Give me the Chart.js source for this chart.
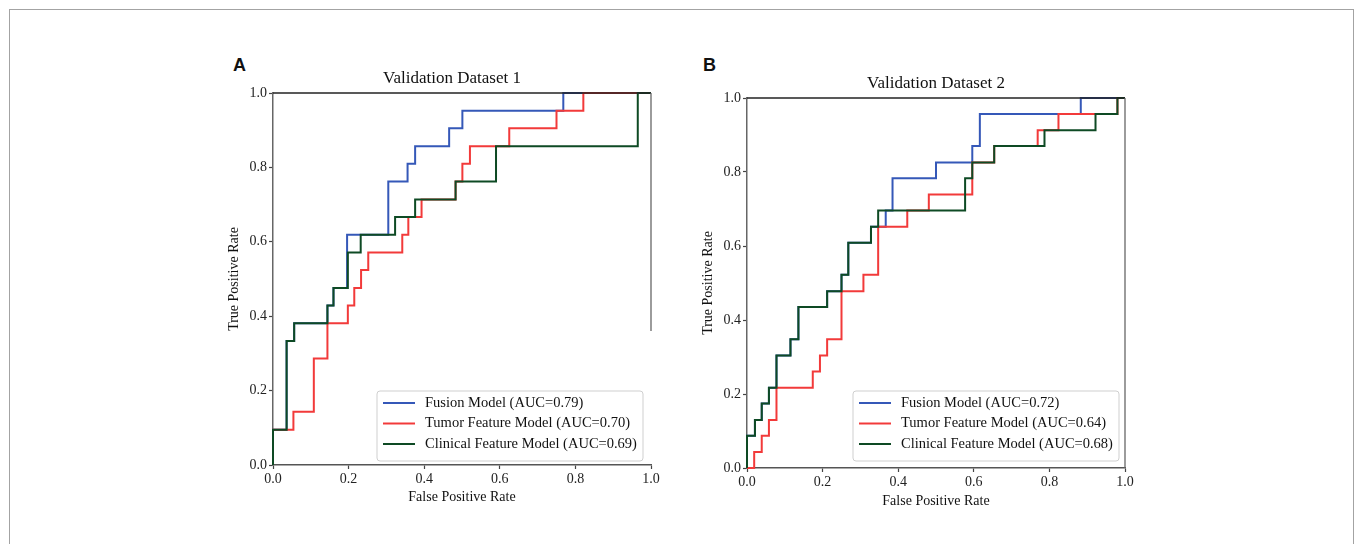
<!DOCTYPE html>
<html>
<head>
<meta charset="utf-8">
<script src="https://cdn.jsdelivr.net/npm/chart.js@4/dist/chart.umd.min.js"></script>
<style>
  body { margin: 0; background: #fff; width: 1357px; height: 544px; overflow: hidden; position: relative; }
  .frame { position: absolute; left: 9px; top: 9px; width: 1343px; height: 560px; border: 1.5px solid #a3a3a3; border-bottom: none; }
  .panel { position: absolute; width: 480px; height: 490px; }
  .letter { position: absolute; font: bold 18px "Liberation Sans", Arial, sans-serif; color: #111; }
</style>
</head>
<body>
<div class="frame"></div>
<div class="letter" style="left:233px; top:55px;">A</div>
<div class="letter" style="left:703px; top:55px;">B</div>
<div class="panel" style="left:190px; top:40px;"><canvas id="rocA" width="480" height="490"></canvas></div>
<div class="panel" style="left:664px; top:44px;"><canvas id="rocB" width="480" height="490"></canvas></div>
<script>
// ROC curve corner points (FPR, TPR)
const labelsA = ['Fusion Model (AUC=0.79)', 'Tumor Feature Model (AUC=0.70)', 'Clinical Feature Model (AUC=0.69)'];
const labelsB = ['Fusion Model (AUC=0.72)', 'Tumor Feature Model (AUC=0.64)', 'Clinical Feature Model (AUC=0.68)'];
const tickValues = [0, 0.2, 0.4, 0.6, 0.8, 1.0];

const fusionA_fpr = [0, 0, 0.036, 0.036, 0.056, 0.056, 0.144, 0.144, 0.16, 0.16, 0.196, 0.196, 0.305, 0.305, 0.356, 0.356, 0.376, 0.376, 0.466, 0.466, 0.501, 0.501, 0.768, 0.768, 1];
const fusionA_tpr = [0, 0.095, 0.095, 0.333, 0.333, 0.381, 0.381, 0.429, 0.429, 0.476, 0.476, 0.619, 0.619, 0.762, 0.762, 0.810, 0.810, 0.857, 0.857, 0.905, 0.905, 0.952, 0.952, 1, 1];

const tumorA_fpr = [0, 0, 0.054, 0.054, 0.108, 0.108, 0.144, 0.144, 0.198, 0.198, 0.215, 0.215, 0.233, 0.233, 0.252, 0.252, 0.342, 0.342, 0.358, 0.358, 0.393, 0.393, 0.483, 0.483, 0.501, 0.501, 0.521, 0.521, 0.625, 0.625, 0.75, 0.75, 0.821, 0.821, 1];
const tumorA_tpr = [0, 0.095, 0.095, 0.143, 0.143, 0.286, 0.286, 0.381, 0.381, 0.429, 0.429, 0.476, 0.476, 0.524, 0.524, 0.571, 0.571, 0.619, 0.619, 0.667, 0.667, 0.714, 0.714, 0.762, 0.762, 0.810, 0.810, 0.857, 0.857, 0.905, 0.905, 0.952, 0.952, 1, 1];

const clinicalA_fpr = [0, 0, 0.036, 0.036, 0.056, 0.056, 0.144, 0.144, 0.16, 0.16, 0.198, 0.198, 0.232, 0.232, 0.323, 0.323, 0.376, 0.376, 0.483, 0.483, 0.59, 0.59, 0.965, 0.965, 1];
const clinicalA_tpr = [0, 0.095, 0.095, 0.333, 0.333, 0.381, 0.381, 0.429, 0.429, 0.476, 0.476, 0.571, 0.571, 0.619, 0.619, 0.667, 0.667, 0.714, 0.714, 0.762, 0.762, 0.857, 0.857, 1, 1];

const fusionB_fpr = [0, 0, 0.021, 0.021, 0.039, 0.039, 0.058, 0.058, 0.078, 0.078, 0.115, 0.115, 0.136, 0.136, 0.212, 0.212, 0.25, 0.25, 0.268, 0.268, 0.328, 0.328, 0.367, 0.367, 0.385, 0.385, 0.5, 0.5, 0.596, 0.596, 0.616, 0.616, 0.883, 0.883, 1];
const fusionB_tpr = [0, 0.087, 0.087, 0.130, 0.130, 0.174, 0.174, 0.217, 0.217, 0.304, 0.304, 0.348, 0.348, 0.435, 0.435, 0.478, 0.478, 0.522, 0.522, 0.609, 0.609, 0.652, 0.652, 0.696, 0.696, 0.783, 0.783, 0.826, 0.826, 0.870, 0.870, 0.957, 0.957, 1, 1];

const tumorB_fpr = [0, 0.019, 0.019, 0.039, 0.039, 0.058, 0.058, 0.078, 0.078, 0.174, 0.174, 0.193, 0.193, 0.212, 0.212, 0.25, 0.25, 0.308, 0.308, 0.347, 0.347, 0.424, 0.424, 0.481, 0.481, 0.596, 0.596, 0.654, 0.654, 0.769, 0.769, 0.824, 0.824, 0.98, 0.98, 1];
const tumorB_tpr = [0, 0, 0.043, 0.043, 0.087, 0.087, 0.130, 0.130, 0.217, 0.217, 0.261, 0.261, 0.304, 0.304, 0.348, 0.348, 0.478, 0.478, 0.522, 0.522, 0.652, 0.652, 0.696, 0.696, 0.739, 0.739, 0.826, 0.826, 0.870, 0.870, 0.913, 0.913, 0.957, 0.957, 1, 1];

const clinicalB_fpr = [0, 0, 0.021, 0.021, 0.039, 0.039, 0.058, 0.058, 0.078, 0.078, 0.115, 0.115, 0.136, 0.136, 0.212, 0.212, 0.25, 0.25, 0.268, 0.268, 0.328, 0.328, 0.347, 0.347, 0.577, 0.577, 0.596, 0.596, 0.654, 0.654, 0.787, 0.787, 0.922, 0.922, 0.98, 0.98, 1];
const clinicalB_tpr = [0, 0.087, 0.087, 0.130, 0.130, 0.174, 0.174, 0.217, 0.217, 0.304, 0.304, 0.348, 0.348, 0.435, 0.435, 0.478, 0.478, 0.522, 0.522, 0.609, 0.609, 0.652, 0.652, 0.696, 0.696, 0.783, 0.783, 0.826, 0.826, 0.870, 0.870, 0.913, 0.913, 0.957, 0.957, 1, 1];

const colors = ['#3558b8', '#f23a3a', '#0e4a24'];
const serif = '"Liberation Serif", "Times New Roman", serif';

function pts(xs, ys) {
    return xs.map((x, i) => ({ x: x, y: ys[i] }));
}

// top/right spines, title and the boxed legend in the lower right
const frameAndLegend = {
    id: 'frameAndLegend',
    afterDraw(chart, args, opts) {
        const ctx = chart.ctx;
        const a = chart.chartArea;
        ctx.save();
        ctx.strokeStyle = '#222';
        ctx.lineWidth = 1.3;
        ctx.beginPath();
        ctx.moveTo(a.left, a.top);
        ctx.lineTo(a.right, a.top);
        ctx.stroke();
        ctx.strokeStyle = '#666';
        ctx.beginPath();
        ctx.moveTo(a.right, a.top);
        ctx.lineTo(a.right, a.top + (a.bottom - a.top) * opts.rightSpine);
        ctx.stroke();

        ctx.fillStyle = '#111';
        ctx.font = '17px ' + serif;
        ctx.textAlign = 'center';
        ctx.textBaseline = 'middle';
        ctx.fillText(opts.title, (a.left + a.right) / 2 + opts.titleShift, a.top - 14);

        const w = 266, h = 70;
        const bx = a.right - opts.boxRight - w, by = a.bottom - opts.boxBottom - h;
        ctx.beginPath();
        ctx.roundRect(bx, by, w, h, 3);
        ctx.fillStyle = 'rgba(255,255,255,0.85)';
        ctx.fill();
        ctx.strokeStyle = '#cfcfcf';
        ctx.lineWidth = 1;
        ctx.stroke();
        ctx.font = '14.5px ' + serif;
        ctx.textAlign = 'left';
        chart.data.datasets.forEach((ds, i) => {
            const ry = by + 12 + i * 20.5;
            ctx.strokeStyle = ds.borderColor;
            ctx.lineWidth = 2;
            ctx.beginPath();
            ctx.moveTo(bx + 6, ry);
            ctx.lineTo(bx + 38, ry);
            ctx.stroke();
            ctx.fillStyle = '#111';
            ctx.fillText(ds.label, bx + 48, ry);
        });
        ctx.restore();
    }
};

function makeRoc(id, labels, series, extra) {
    const ctx = document.getElementById(id);
    new Chart(ctx, {
        type: 'scatter',
        data: {
            datasets: series.map((s, i) => ({
                label: labels[i],
                data: pts(s[0], s[1]),
                showLine: true,
                borderColor: colors[i],
                backgroundColor: colors[i],
                borderWidth: 2,
                pointRadius: 0,
                tension: 0,
                clip: false,
                order: 2 - i
            }))
        },
        options: {
            responsive: false,
            animation: false,
            devicePixelRatio: 1,
            layout: { padding: { left: 0, top: extra.top, right: 19, bottom: 0 } },
            plugins: {
                legend: { display: false },
                tooltip: { enabled: false },
                frameAndLegend: extra
            },
            scales: {
                x: {
                    type: 'linear', min: 0, max: 1,
                    afterBuildTicks: (s) => { s.ticks = tickValues.map(v => ({ value: v })); },
                    afterFit: (s) => { s.height = extra.xh; },
                    border: { color: '#555', width: 1.5 },
                    grid: { drawOnChartArea: false, tickLength: 4, tickColor: '#444', tickWidth: 1.2 },
                    ticks: { padding: 2, color: '#222', font: { family: serif, size: 14 }, callback: v => v.toFixed(1), maxRotation: 0 },
                    title: { display: true, text: 'False Positive Rate', color: '#111', font: { family: serif, size: 14 }, padding: { top: 0, bottom: 24 } }
                },
                y: {
                    type: 'linear', min: 0, max: 1,
                    afterBuildTicks: (s) => { s.ticks = tickValues.map(v => ({ value: v })); },
                    afterFit: (s) => { s.width = 83; },
                    border: { color: '#666', width: 1.5 },
                    grid: { drawOnChartArea: false, tickLength: 4, tickColor: '#444', tickWidth: 1.2 },
                    ticks: { padding: 2, color: '#222', font: { family: serif, size: 14 }, callback: v => v.toFixed(1) },
                    title: { display: true, text: 'True Positive Rate', color: '#111', font: { family: serif, size: 14 }, padding: { top: extra.ytp, bottom: 0 } }
                }
            }
        },
        plugins: [frameAndLegend]
    });
}

makeRoc('rocA', labelsA,
    [[fusionA_fpr, fusionA_tpr], [tumorA_fpr, tumorA_tpr], [clinicalA_fpr, clinicalA_tpr]],
    { title: 'Validation Dataset 1', titleShift: -10, top: 53, xh: 65, ytp: 36, rightSpine: 0.64, boxRight: 8, boxBottom: 4 });

makeRoc('rocB', labelsB,
    [[fusionB_fpr, fusionB_tpr], [tumorB_fpr, tumorB_tpr], [clinicalB_fpr, clinicalB_tpr]],
    { title: 'Validation Dataset 2', titleShift: 0, top: 54, xh: 66, ytp: 36, rightSpine: 1, boxRight: 6, boxBottom: 7 });
</script>
</body>
</html>
